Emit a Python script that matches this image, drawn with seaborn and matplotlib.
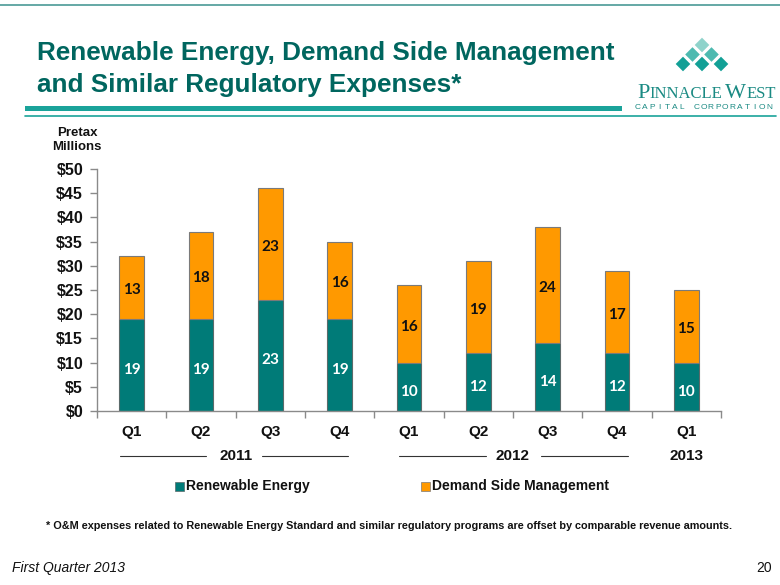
import matplotlib
matplotlib.use("Agg")
import matplotlib.pyplot as plt
import seaborn as sns
import pandas as pd
import numpy as np
from matplotlib.patches import Polygon, Rectangle
from matplotlib.lines import Line2D

quarters = ["Q1", "Q2", "Q3", "Q4", "Q1", "Q2", "Q3", "Q4", "Q1"]
years = ["2011", "2012", "2013"]
renewable = [19, 19, 23, 19, 10, 12, 14, 12, 10]
dsm = [13, 18, 23, 16, 16, 19, 24, 17, 15]
yticks = [0, 5, 10, 15, 20, 25, 30, 35, 40, 45, 50]

TEAL = "#007B78"
ORANGE = "#FF9900"
TITLE = "#00665F"
LOGO = "#1a8a83"

sns.set_theme(style="white")
plt.rcParams['font.family'] = ['Liberation Sans', 'DejaVu Sans']

fig = plt.figure(figsize=(7.8, 5.85), dpi=100)
W, H = 780, 585

def fx(x):
    return x / W

def fy(y):
    return 1 - y / H

ax = fig.add_axes([fx(97), fy(411), fx(721) - fx(97), fy(169) - fy(411)])

df = pd.DataFrame({"idx": [str(i) for i in range(len(quarters))],
                   "renewable": renewable, "dsm": dsm})
order = list(df["idx"])

sns.barplot(data=df, x="idx", y="renewable", order=order, color=TEAL,
            width=0.36, edgecolor="#5a6a6a", linewidth=0.8, saturation=1, ax=ax)
sns.barplot(data=df, x="idx", y="dsm", order=order, color=ORANGE,
            bottom=df["renewable"].values, width=0.36, edgecolor="#7a7a7a",
            linewidth=0.8, saturation=1, ax=ax)

for i, (r, d) in enumerate(zip(renewable, dsm)):
    ax.text(i, r / 2 - 1.0, str(r), ha="center", va="center", color="white",
            fontsize=11, fontweight="bold", family=["Lato", "DejaVu Sans"])
    ax.text(i, r + d / 2 - 0.6, str(d), ha="center", va="center", color="#111111",
            fontsize=11, fontweight="bold", family=["Lato", "DejaVu Sans"])

ax.set_xlim(-0.5, len(quarters) - 0.5)
ax.set_ylim(0, 50)
ax.set_yticks(yticks)
ax.set_yticklabels([f"${v}" for v in yticks], fontsize=11.5, fontweight="bold")
ax.set_xticks(np.arange(-0.5, len(quarters), 1.0))
ax.set_xticklabels([])
ax.set_xlabel("")
ax.set_ylabel("")
for s in ["top", "right"]:
    ax.spines[s].set_visible(False)
for s in ["left", "bottom"]:
    ax.spines[s].set_color("#8a8a8a")
    ax.spines[s].set_linewidth(1.0)
ax.tick_params(axis="y", direction="out", length=5, color="#8a8a8a", width=1,
               left=True, pad=5, labelcolor="#111111")
ax.tick_params(axis="x", direction="out", length=5, color="#8a8a8a", width=1,
               bottom=True)

for i, q in enumerate(quarters):
    ax.text(i, -4.4, q, ha="center", va="center", fontsize=11,
            fontweight="bold", color="#111111")

ax.text(1.5, -9.3, years[0], ha="center", va="center", fontsize=11,
        fontweight="bold", color="#111111")
ax.text(5.5, -9.3, years[1], ha="center", va="center", fontsize=11,
        fontweight="bold", color="#111111")
ax.text(8, -9.3, years[2], ha="center", va="center", fontsize=11,
        fontweight="bold", color="#111111")

def hline(x0, x1, y):
    fig.add_artist(Line2D([fx(x0), fx(x1)], [fy(y), fy(y)], color="#333333", lw=0.8))

hline(120, 206, 456)
hline(262, 348, 456)
hline(399, 486, 456)
hline(541, 628, 456)

# legend
fig.add_artist(Rectangle((fx(175), fy(491)), fx(9), fy(482) - fy(491),
                         facecolor=TEAL, edgecolor="#5a6a6a", lw=0.5))
fig.text(fx(186), fy(486), "Renewable Energy", ha="left", va="center",
         fontsize=10, fontweight="bold", color="#111111")
fig.add_artist(Rectangle((fx(421), fy(491)), fx(9), fy(482) - fy(491),
                         facecolor=ORANGE, edgecolor="#7a7a7a", lw=0.5))
fig.text(fx(432), fy(486), "Demand Side Management", ha="left", va="center",
         fontsize=10, fontweight="bold", color="#111111")

# pretax millions
fig.text(fx(77), fy(140), "Pretax\nMillions", ha="center", va="center",
         fontsize=9.5, fontweight="bold", color="#111111", linespacing=1.15)

# title
fig.text(fx(37), fy(53), "Renewable Energy, Demand Side Management", ha="left",
         va="center", fontsize=18.8, fontweight="bold", color=TITLE)
fig.text(fx(37), fy(85), "and Similar Regulatory Expenses*", ha="left",
         va="center", fontsize=18.8, fontweight="bold", color=TITLE)

# decorative lines
fig.add_artist(Line2D([0, 1], [fy(5), fy(5)], color="#4a9a96", lw=1.2))
fig.add_artist(Rectangle((fx(25), fy(111)), fx(622) - fx(25), fy(106) - fy(111),
                         facecolor="#1aa39a", edgecolor="none"))
fig.add_artist(Line2D([fx(25), fx(776)], [fy(115.5), fy(115.5)], color="#1aa39a", lw=1.2))

# logo diamonds
def diamond(cx, cy, r, color):
    pts = [(fx(cx), fy(cy - r)), (fx(cx + r), fy(cy)), (fx(cx), fy(cy + r)),
           (fx(cx - r), fy(cy))]
    fig.add_artist(Polygon(pts, closed=True, facecolor=color, edgecolor="none"))

r = 7.3
diamond(702, 45, r, "#8fd3cb")
diamond(692.5, 54.5, r, "#4dbab0")
diamond(711.5, 54.5, r, "#4dbab0")
diamond(683, 64, r, "#12a096")
diamond(702, 64, r, "#12a096")
diamond(721, 64, r, "#12a096")

# logo wordmark with small caps
serif = ["Liberation Serif", "DejaVu Serif"]
pieces = [("P", 16, 0), ("INNACLE", 12, 0), ("W", 16, 3), ("EST", 12, 0)]
renderer = fig.canvas.get_renderer()
xs = 637.0
for txt, sz, gap in pieces:
    xs += gap
    t = fig.text(fx(xs), fy(98), txt, ha="left", va="baseline", fontsize=sz,
                 color=LOGO, family=serif)
    bb = t.get_window_extent(renderer=renderer)
    xs += bb.width
sub = "CAPITAL CORPORATION"
pos = np.linspace(638, 769, len(sub))
for ch, px in zip(sub, pos):
    if ch != " ":
        fig.text(fx(px), fy(107.5), ch, ha="center", va="center", fontsize=6,
                 color=LOGO)

# footnotes
fig.text(fx(389), fy(526), "* O&M expenses related to Renewable Energy Standard and similar regulatory programs are offset by comparable revenue amounts.",
         ha="center", va="center", fontsize=7.85, fontweight="bold", color="#111111")
fig.text(fx(12), fy(568), "First Quarter 2013", ha="left", va="center",
         fontsize=10, style="italic", color="#111111")
fig.text(fx(772), fy(568), "20", ha="right", va="center", fontsize=10,
         color="#111111")

fig.savefig("out.png", dpi=100)
